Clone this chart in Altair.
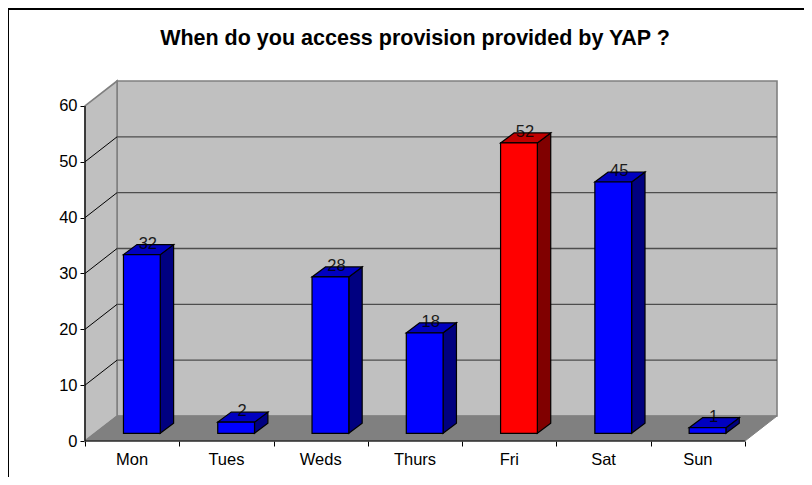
import altair as alt
import pandas as pd

days = ["Mon", "Tues", "Weds", "Thurs", "Fri", "Sat", "Sun"]
counts = [32, 2, 28, 18, 52, 45, 1]
grid_values = [10, 20, 30, 40, 50]
y_ticks = [0, 10, 20, 30, 40, 50, 60]
title_text = "When do you access provision provided by YAP ?"

FONT = "Liberation Sans"
N = len(days)
YMAX = 60
WX, WY = 0.34, 4.47      # depth of the 3-D box in scale units
OX, OY = 0.103, 1.38     # where the bar sits in that depth
BW = 0.39                # bar width
BX, BY = 0.142, 1.79     # bar depth

xs = alt.Scale(domain=[0, N + WX], nice=False, zero=False)
ys = alt.Scale(domain=[0, YMAX + WY], nice=False, zero=False)

X = lambda f, **k: alt.X(f, type="quantitative", scale=xs, title=None, **k)
Y = lambda f, **k: alt.Y(f, type="quantitative", scale=ys, title=None, **k)

rows = []
for i, (d, v) in enumerate(zip(days, counts)):
    left = i + 0.5 - BW / 2 + OX
    right = left + BW
    rows.append(dict(day=d, value=v, left=left, right=right, mid=(left + right) / 2,
                     base=OY, top=v + OY))
bars = pd.DataFrame(rows)

side = pd.concat([
    pd.DataFrame(dict(day=bars.day, x=bars.right, lo=bars.base, hi=bars.top)),
    pd.DataFrame(dict(day=bars.day, x=bars.right + BX, lo=bars.base + BY, hi=bars.top + BY)),
])
topf = pd.concat([
    pd.DataFrame(dict(day=bars.day, y=bars.top, a=bars.left, b=bars.right)),
    pd.DataFrame(dict(day=bars.day, y=bars.top + BY, a=bars.left + BX, b=bars.right + BX)),
])

FACE = alt.condition(alt.datum.day == "Fri", alt.value("#ff0000"), alt.value("#0000ff"))
SIDE = alt.condition(alt.datum.day == "Fri", alt.value("#800000"), alt.value("#000080"))
TOP = alt.condition(alt.datum.day == "Fri", alt.value("#c00000"), alt.value("#0000c0"))

EDGE = "#808080"
WALL = "#c0c0c0"

back = alt.Chart(pd.DataFrame(dict(a=[WX], b=[N + WX], c=[WY], d=[YMAX + WY]))).mark_rect(
    fill=WALL, stroke=EDGE, strokeWidth=1.6
).encode(
    x=X("a", axis=alt.Axis(values=list(range(N + 1)), labels=False, domain=False, grid=False,
                           tickSize=5, tickColor="#000000", tickWidth=1)),
    x2="b",
    y=Y("c", axis=alt.Axis(values=y_ticks, domain=False, grid=False, tickSize=5,
                           tickColor="#000000", tickWidth=1, labelFont=FONT, labelFontSize=16.5,
                           labelColor="#000000", labelPadding=3)),
    y2="d",
)

wall = alt.Chart(pd.DataFrame(dict(x=[0, WX], lo=[0, WY], hi=[YMAX, YMAX + WY]))).mark_area(
    fill=WALL, stroke=EDGE, strokeWidth=1.6, orient="vertical"
).encode(x=X("x"), y=Y("lo"), y2="hi")

floor = alt.Chart(pd.DataFrame(dict(y=[0, WY], a=[0, WX], b=[N, N + WX]))).mark_area(
    fill=EDGE, stroke=EDGE, strokeWidth=1, orient="horizontal"
).encode(y=Y("y"), x=X("a"), x2="b")

gv = pd.DataFrame(dict(v=grid_values))
gv["a"], gv["b"], gv["vb"] = 0.0, WX, gv.v + WY
gv["bb"] = N + WX
back_grid = alt.Chart(gv).mark_rule(color="#4d4d4d", strokeWidth=1.3).encode(
    x=X("b"), x2="bb", y=Y("vb"))
side_grid = alt.Chart(gv).mark_rule(color="#000000", strokeWidth=1).encode(
    x=X("a"), x2="b", y=Y("v"), y2="vb")

axis_y = alt.Chart(pd.DataFrame(dict(x=[0], a=[0], b=[YMAX]))).mark_rule(
    color="#000000", strokeWidth=1.2).encode(x=X("x"), y=Y("a"), y2="b")
axis_x = alt.Chart(pd.DataFrame(dict(y=[0], a=[0], b=[N]))).mark_rule(
    color="#000000", strokeWidth=1.2).encode(y=Y("y"), x=X("a"), x2="b")

bar_side = alt.Chart(side).mark_area(stroke="#000000", strokeWidth=1.2, orient="vertical").encode(
    x=X("x"), y=Y("lo"), y2="hi", detail="day:N", fill=SIDE)
bar_top = alt.Chart(topf).mark_area(stroke="#000000", strokeWidth=1.2, orient="horizontal").encode(
    y=Y("y"), x=X("a"), x2="b", detail="day:N", fill=TOP)
bar_face = alt.Chart(bars).mark_rect(stroke="#000000", strokeWidth=1.2).encode(
    x=X("left"), x2="right", y=Y("base"), y2="top", fill=FACE)

value_text = alt.Chart(bars).mark_text(
    font=FONT, fontSize=16.5, color="#000000", dx=6, dy=-11, baseline="middle", opacity=0.85
).encode(x=X("mid"), y=Y("top"), text="value:Q")

cats = pd.DataFrame(dict(day=days, x=[i + 0.5 for i in range(N)], y=[0] * N))
cat_text = alt.Chart(cats).mark_text(
    font=FONT, fontSize=16.5, color="#000000", dy=19, baseline="middle"
).encode(x=X("x"), y=Y("y"), text="day:N")

frame_top = alt.Chart(pd.DataFrame(dict(k=[0]))).mark_rule(color="#000000", strokeWidth=2).encode(
    x=alt.value(-77), x2=alt.value(719), y=alt.value(-72))
frame_left = alt.Chart(pd.DataFrame(dict(k=[0]))).mark_rule(color="#000000", strokeWidth=2).encode(
    x=alt.value(-77), y=alt.value(-72), y2=alt.value(396))

chart = alt.layer(
    back, wall, floor, back_grid, side_grid, axis_y, axis_x,
    bar_side, bar_top, bar_face, value_text, cat_text, frame_top, frame_left,
).properties(
    width=692, height=360,
    title=alt.TitleParams(title_text, font=FONT, fontSize=21.5, fontWeight="bold", color="#000000",
                          anchor="middle", offset=-41, dx=-16),
    autosize=alt.AutoSizeParams(type="none"),
    padding={"left": 77, "top": 73, "right": 27, "bottom": 36},
    background="#ffffff",
).configure_view(stroke=None)

chart.save("out.html", embed_options={"renderer": "svg", "actions": False})
